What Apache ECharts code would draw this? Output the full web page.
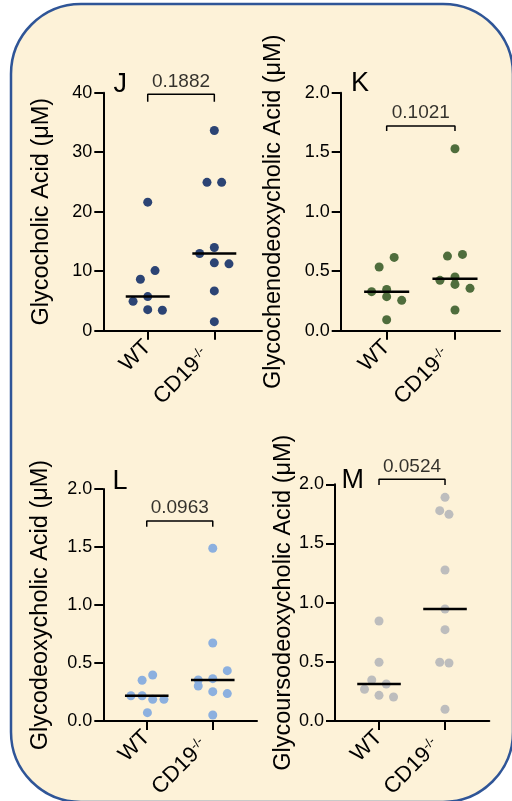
<!DOCTYPE html>
<html>
<head>
<meta charset="utf-8">
<script src="https://cdn.jsdelivr.net/npm/echarts@6/dist/echarts.min.js"></script>
<style>
  html, body { margin: 0; padding: 0; background: #fff; }
  #main { width: 512px; height: 801px; }
</style>
</head>
<body>
<div id="main"></div>
<script>
// groups on the x axis
var groups = ['WT', 'CD19'];

// J: glycocholic acid (µM), with the horizontal jitter of each dot (in group widths)
var gcaWT = [21.6, 10.1, 8.65, 5.73, 4.94, 3.54, 3.43];
var gcaWTx = [0, 0.11, -0.11, 0, -0.22, 0, 0.22];
var gcaKO = [33.65, 24.94, 24.94, 13.99, 12.98, 11.4, 11.24, 6.69, 1.52];
var gcaKOx = [0, -0.11, 0.11, 0, -0.22, 0, 0.22, 0, 0];

// K: glycochenodeoxycholic acid
var gcdcaWT = [0.616, 0.535, 0.347, 0.328, 0.286, 0.255, 0.092];
var gcdcaWTx = [0.11, -0.11, 0, -0.22, 0, 0.22, 0];
var gcdcaKO = [1.529, 0.641, 0.627, 0.451, 0.423, 0.389, 0.356, 0.174];
var gcdcaKOx = [0, 0.11, -0.11, 0, -0.22, 0, 0.22, 0];

// L: glycodeoxycholic acid
var gdcaWT = [0.397, 0.351, 0.218, 0.218, 0.187, 0.187, 0.072];
var gdcaWTx = [0.09, -0.07, -0.24, -0.07, 0.09, 0.26, 0.01];
var gdcaKO = [1.489, 0.672, 0.434, 0.365, 0.353, 0.302, 0.253, 0.236, 0.052];
var gdcaKOx = [0, 0, 0.22, 0, -0.22, -0.22, 0, 0.22, 0];

// M: glycoursodeoxycholic acid
var gudcaWT = [0.845, 0.496, 0.346, 0.313, 0.268, 0.217, 0.203];
var gudcaWTx = [0, 0, -0.11, 0.11, -0.22, 0, 0.22];
var gudcaKO = [1.890, 1.777, 1.746, 1.276, 0.946, 0.772, 0.496, 0.490, 0.099];
var gudcaKOx = [0, -0.08, 0.06, 0, 0, 0, -0.08, 0.06, 0];

var pValues = ['0.1882', '0.1021', '0.0963', '0.0524'];

var FONT = 'Liberation Sans, Arial, sans-serif';

var panels = [
  { letter: 'J', name: 'Glycocholic Acid (μM)', wt: gcaWT, wtX: gcaWTx, ko: gcaKO, koX: gcaKOx,
    color: '#2c4474', yMax: 40, yStep: 10, dec: 0, nameGap: 50, bracket: [38.5, 39.73],
    grid: { left: 103.3, top: 92.7, width: 158.7, height: 238 }, xMin: -0.667, xMax: 1.716,
    letterAt: [113.5, 84.5] },
  { letter: 'K', name: 'Glycochenodeoxycholic Acid (μM)', wt: gcdcaWT, wtX: gcdcaWTx, ko: gcdcaKO, koX: gcdcaKOx,
    color: '#4f6d3c', yMax: 2, yStep: 0.5, dec: 1, nameGap: 55, bracket: [1.678, 1.72],
    grid: { left: 340.7, top: 92.7, width: 159.3, height: 238 }, xMin: -0.673, xMax: 1.659,
    letterAt: [351, 84] },
  { letter: 'L', name: 'Glycodeoxycholic Acid (μM)', wt: gdcaWT, wtX: gdcaWTx, ko: gdcaKO, koX: gdcaKOx,
    color: '#8cb0df', yMax: 2, yStep: 0.5, dec: 1, nameGap: 51, bracket: [1.675, 1.724],
    grid: { left: 103.3, top: 489, width: 153.7, height: 232 }, xMin: -0.658, xMax: 1.67,
    letterAt: [112.5, 482] },
  { letter: 'M', name: 'Glycoursodeoxycholic Acid (μM)', wt: gudcaWT, wtX: gudcaWTx, ko: gudcaKO, koX: gudcaKOx,
    color: '#bdbdbd', yMax: 2, yStep: 0.5, dec: 1, nameGap: 38, bracket: [1.994, 2.042],
    grid: { left: 335, top: 484.3, width: 154.3, height: 236.7 }, xMin: -0.667, xMax: 1.671,
    letterAt: [341.5, 481] }
];

function median(arr) {
  var s = arr.slice().sort(function (a, b) { return a - b; });
  var m = Math.floor(s.length / 2);
  return s.length % 2 ? s[m] : (s[m - 1] + s[m]) / 2;
}

function dots(vals, jit, g) {
  return vals.map(function (v, i) { return [g + jit[i], v]; });
}

var grids = [], xAxes = [], yAxes = [], series = [], graphics = [];
var HALF = 0.33;

graphics.push({
  type: 'rect', z: -100,
  shape: { x: 11, y: 4, width: 502, height: 798, r: 70 },
  style: { fill: '#fdf2d8', stroke: '#2f5597', lineWidth: 2.5 }
});

panels.forEach(function (p, i) {
  grids.push(p.grid);
  xAxes.push({
    gridIndex: i, type: 'value', min: p.xMin, max: p.xMax,
    axisLine: { onZero: false, lineStyle: { color: '#000', width: 2 } },
    axisTick: { customValues: [0, 1], length: 9, lineStyle: { color: '#000', width: 2 } },
    splitLine: { show: false },
    axisLabel: {
      customValues: [0, 1], rotate: 45, margin: 13, color: '#000',
      fontFamily: FONT, fontSize: 22,
      formatter: function (v) {
        return v === 0 ? groups[0] + '{gap| }' : groups[1] + '{sup|-/-}{gap2| }';
      },
      rich: {
        sup: { fontSize: 13, fontFamily: FONT, verticalAlign: 'top', color: '#000' },
        gap: { width: 0, fontSize: 13 },
        gap2: { width: 12, fontSize: 13 }
      }
    }
  });
  yAxes.push({
    gridIndex: i, type: 'value', min: 0, max: p.yMax, interval: p.yStep,
    name: p.name, nameLocation: 'middle', nameGap: p.nameGap, nameRotate: 90,
    nameTextStyle: { fontFamily: FONT, fontSize: 23.5, color: '#000' },
    axisLine: { show: true, onZero: false, lineStyle: { color: '#000', width: 2 } },
    axisTick: { show: true, length: 9, lineStyle: { color: '#000', width: 2 } },
    splitLine: { show: false },
    axisLabel: {
      margin: 11, fontFamily: FONT, fontSize: 18, color: '#000',
      formatter: function (v) { return v.toFixed(p.dec); }
    }
  });

  [[p.wt, p.wtX, 0], [p.ko, p.koX, 1]].forEach(function (g) {
    series.push({
      type: 'scatter', xAxisIndex: i, yAxisIndex: i, symbolSize: 9,
      itemStyle: { color: p.color, opacity: 1 }, data: dots(g[0], g[1], g[2]), z: 3
    });
    var med = median(g[0]);
    series.push({
      type: 'line', xAxisIndex: i, yAxisIndex: i, symbol: 'none', z: 4,
      lineStyle: { color: '#000', width: 2.5 },
      data: [[g[2] - HALF, med], [g[2] + HALF, med]]
    });
  });

  // bracket with the p value
  series.push({
    type: 'line', xAxisIndex: i, yAxisIndex: i, symbol: 'none', clip: false,
    lineStyle: { color: '#000', width: 1.5 },
    data: [[0, p.bracket[0]], [0, p.bracket[1]], [1, p.bracket[1]], [1, p.bracket[0]]]
  });
  series.push({
    type: 'scatter', xAxisIndex: i, yAxisIndex: i, symbolSize: 1, clip: false,
    itemStyle: { color: 'rgba(0,0,0,0)' },
    label: { show: true, position: 'top', distance: 3, formatter: pValues[i],
      fontFamily: FONT, fontSize: 19, color: '#000' },
    data: [[0.5, p.bracket[1]]]
  });

  graphics.push({
    type: 'text', x: p.letterAt[0], y: p.letterAt[1],
    style: { text: p.letter, fontFamily: FONT, fontSize: 27, fill: '#000', verticalAlign: 'middle' }
  });
});

var chart = echarts.init(document.getElementById('main'));
chart.setOption({
  animation: false,
  backgroundColor: '#fff',
  grid: grids,
  xAxis: xAxes,
  yAxis: yAxes,
  series: series,
  graphic: graphics
});
</script>
</body>
</html>
